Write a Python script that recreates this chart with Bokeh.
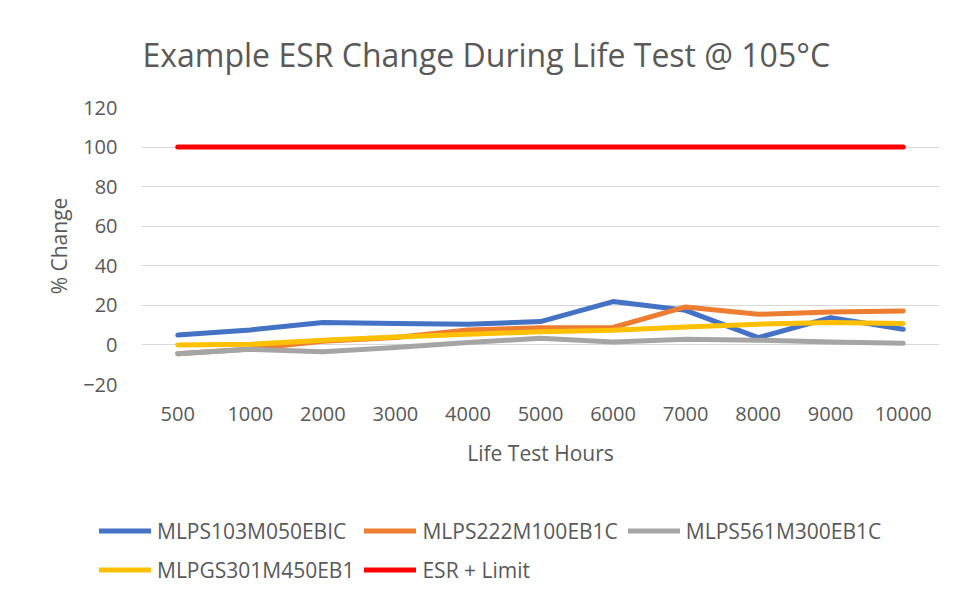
from bokeh.plotting import figure
from bokeh.models import FixedTicker, Legend, LegendItem, Range1d
from bokeh.layouts import column
from bokeh.embed import file_html
from bokeh.resources import INLINE

hours = ["500", "1000", "2000", "3000", "4000", "5000", "6000", "7000", "8000", "9000", "10000"]
mlps103 = [5.0, 7.6, 11.3, 10.8, 10.5, 11.8, 21.9, 17.5, 3.7, 13.8, 7.9]
mlps222 = [-4.4, -2.0, 1.8, 3.7, 7.6, 8.7, 8.8, 19.2, 15.5, 16.7, 17.2]
mlps561 = [-4.4, -2.2, -3.5, -1.3, 1.2, 3.4, 1.5, 2.9, 2.4, 1.5, 0.8]
mlpgs301 = [0.0, 0.3, 2.4, 4.0, 5.4, 6.6, 7.4, 9.1, 10.5, 11.3, 10.8]
esr_limit = [100, 100, 100, 100, 100, 100, 100, 100, 100, 100, 100]
y_ticks = [-20, 0, 20, 40, 60, 80, 100, 120]

series = [
    ("MLPS103M050EBIC", mlps103, "#4472C4"),
    ("MLPS222M100EB1C", mlps222, "#ED7D31"),
    ("MLPS561M300EB1C", mlps561, "#A5A5A5"),
    ("MLPGS301M450EB1", mlpgs301, "#FFC000"),
    ("ESR + Limit", esr_limit, "#FF0000"),
]

FONT = "Open Sans"
TXT = "#595959"

p = figure(width=951, height=475, x_range=hours, y_range=(-20, 120),
           output_backend="svg", toolbar_location=None,
           min_border_left=141, min_border_right=12, min_border_top=107,
           min_border_bottom=91)
p.frame_align = False
p.outline_line_color = None
p.background_fill_color = "white"
p.border_fill_color = "white"

p.title.text = "Example ESR Change During Life Test @ 105\u00b0C"
p.title.text_font = FONT
p.title.text_font_size = "32px"
p.title.text_font_style = "normal"
p.title.text_color = TXT
p.title.align = "left"
p.title.vertical_align = "middle"
p.title.offset = 1
p.title.standoff = 62

for name, vals, col in series:
    p.line(hours, vals, line_color=col, line_width=5,
           line_cap="round", line_join="round")

p.xgrid.grid_line_color = None
p.ygrid.grid_line_color = "#D9D9D9"
p.ygrid.grid_line_width = 1

p.yaxis.ticker = FixedTicker(ticks=y_ticks)
for ax in (p.xaxis[0], p.yaxis[0]):
    ax.axis_line_color = None
    ax.major_tick_line_color = None
    ax.minor_tick_line_color = None
    ax.major_tick_out = 0
    ax.major_tick_in = 0
    ax.minor_tick_out = 0
    ax.major_label_text_font = FONT
    ax.major_label_text_font_size = "20px"
    ax.major_label_text_color = TXT
    ax.axis_label_text_font = FONT
    ax.axis_label_text_font_size = "21px"
    ax.axis_label_text_font_style = "normal"
    ax.axis_label_text_color = TXT

p.xaxis.axis_label = "Life Test Hours"
p.xaxis.major_label_standoff = 22
p.xaxis.axis_label_standoff = 15
p.yaxis.axis_label = "% Change"
p.yaxis.major_label_standoff = 24
p.yaxis.axis_label_standoff = 7

# legend strip below the chart (its ranges keep the series out of view)
lg = figure(width=951, height=113, x_range=hours, y_range=Range1d(200, 201),
            output_backend="svg", toolbar_location=None,
            x_axis_type=None, y_axis_type=None,
            min_border_left=0, min_border_right=0, min_border_top=0,
            min_border_bottom=0)
lg.frame_align = False
lg.outline_line_color = None
lg.background_fill_color = "white"
lg.border_fill_color = "white"
lg.xgrid.visible = False
lg.ygrid.visible = False

items = []
for name, vals, col in series:
    r = lg.line(hours, vals, line_color=col, line_width=5, line_cap="round")
    items.append(LegendItem(label=name, renderers=[r]))

legend = Legend(items=items, location=(99, 4), orientation="horizontal",
                ncols=3)
legend.label_text_font = FONT
legend.label_text_font_size = "21px"
legend.label_text_color = TXT
legend.glyph_width = 52
legend.glyph_height = 29
legend.label_height = 29
legend.label_standoff = 6
legend.spacing = 10
legend.padding = 0
legend.margin = 0
legend.border_line_color = None
legend.background_fill_alpha = 0
lg.add_layout(legend, "center")

layout = column(p, lg)
open("out.html", "w").write(file_html(layout, INLINE))
